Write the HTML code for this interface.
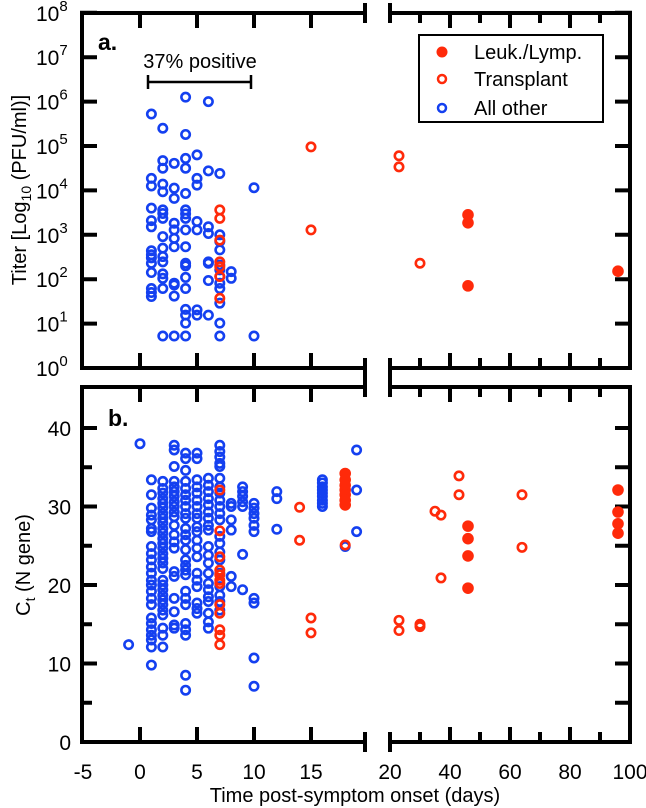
<!DOCTYPE html>
<html><head><meta charset="utf-8">
<style>
html,body{margin:0;padding:0;background:#fff;}
svg{display:block;font-family:"Liberation Sans",Arial,sans-serif;}
</style></head>
<body>
<svg id="chart" width="646" height="808" viewBox="0 0 646 808">
<g id="axes"></g>
<g id="marks"></g>
<text x="98" y="50" font-size="23" font-weight="bold">a.</text>
<text x="108" y="426" font-size="23" font-weight="bold">b.</text>
<text x="200" y="68" font-size="20" text-anchor="middle">37% positive</text>
<g stroke="#000" stroke-width="2.5">
<line x1="148" y1="82" x2="251" y2="82"/>
<line x1="148" y1="75" x2="148" y2="89"/><line x1="251" y1="75" x2="251" y2="89"/></g>
<g>
<rect x="419" y="35" width="184" height="87" fill="#fff" stroke="#000" stroke-width="2"/>
<circle cx="442" cy="52" r="5.5" fill="#ff2a0a"/>
<text x="474" y="59" font-size="20">Leuk./Lymp.</text>
<circle cx="442" cy="79" r="4" fill="none" stroke="#ff2a0a" stroke-width="2.5"/>
<text x="474" y="86" font-size="20">Transplant</text>
<circle cx="442" cy="108" r="4" fill="none" stroke="#1440f0" stroke-width="2.5"/>
<text x="474" y="115" font-size="20">All other</text>
</g>
<text x="355" y="802" font-size="20" text-anchor="middle">Time post-symptom onset (days)</text>
<text transform="translate(26,190) rotate(-90)" font-size="20" text-anchor="middle">Titer [Log<tspan font-size="14" dy="5">10</tspan><tspan dy="-5"> (PFU/ml)]</tspan></text>
<text transform="translate(30,565) rotate(-90)" font-size="20" text-anchor="middle">C<tspan font-size="14" dy="5">t</tspan><tspan dy="-5"> (N gene)</tspan></text>
</svg>
<script>
// Panel a: titer (log10 PFU/ml)
const otherTiterDays = [1,1,1,1,1,1,1,1,1,1,1,1,1,1, 2,2,2,2,2,2,2,2,2,2,2,2,2,2,2,2, 3,3,3,3,3,3,3,3,3,3,3, 4,4,4,4,4,4,4,4,4,4,4,4,4,4,4,4,4,4, 5,5,5,5,5,5,5, 6,6,6,6,6,6,6,6, 7,7,7,7,7,7,7,7,7,7,7,7, 8,8, 10,10];
const otherTiterLog = [5.72,4.27,4.10,3.60,3.32,3.18,2.64,2.55,2.48,2.36,2.15,1.79,1.70,1.61, 5.40,4.67,4.50,4.14,3.97,3.56,3.48,3.37,2.96,2.70,2.51,2.39,2.12,2.02,1.79,0.72, 4.61,4.05,3.82,3.26,3.11,2.92,2.73,1.91,1.87,1.62,0.72, 6.10,5.26,4.72,4.50,3.93,3.56,3.47,3.37,3.11,2.73,2.36,2.30,2.04,1.79,1.32,1.19,1.01,0.72, 4.80,4.27,4.12,3.30,3.11,1.31,1.19, 6.00,4.44,3.18,3.03,2.39,2.36,1.97,1.19, 4.38,3.00,2.85,2.66,2.32,2.21,2.06,1.91,1.79,1.46,1.01,0.72, 2.17,2.02, 4.06,0.72];
const transTiterDays = [7,7,7,7,7,7,7,15,15,23,23,30];
const transTiterLog = [3.56,3.37,2.88,2.39,2.28,2.06,1.57,4.98,3.11,4.78,4.53,2.36];
const leukTiterDays = [46,46,46,96];
const leukTiterLog = [3.45,3.27,1.85,2.18];
// Panel b: Ct values
const otherCtDays = [-1,0,
1,1,1,1,1,1,1,1,1,1,1,1,1,1,1,1,1,1,1,1,1,1,1,1,
2,2,2,2,2,2,2,2,2,2,2,2,2,2,2,2,2,2,2,2,2,2,2,2,2,2,2,2,2,
3,3,3,3,3,3,3,3,3,3,3,3,3,3,3,3,3,3,3,3,3,
4,4,4,4,4,4,4,4,4,4,4,4,4,4,4,4,4,4,4,4,4,4,4,4,4,4,
5,5,5,5,5,5,5,5,5,5,5,5,5,5,5,5,5,5,5,5,
6,6,6,6,6,6,6,6,6,6,6,6,6,6,6,6,6,6,6,6,
7,7,7,7,7,7,7,7,7,7,7,7,7,7,7,7,7,7,7,7,7,
8,8,8,8,8,8, 9,9,9,9,9,9,9, 10,10,10,10,10,10,10,10,10,10, 12,12,12,
16,16,16,16,16,16,16,16,16, 19,19,19,18];
const otherCt = [12.4,38.0,
33.4,31.5,29.8,28.9,28.3,27.2,26.8,24.9,24.0,23.2,22.3,21.5,20.6,20.0,19.2,18.3,17.5,15.8,15.1,14.3,13.6,13.0,12.1,9.8,
33.2,32.3,31.7,31.0,30.4,29.8,29.1,28.5,27.9,27.2,26.6,25.9,25.3,24.7,24.0,23.4,22.8,22.1,20.6,20.0,19.4,18.7,18.1,17.5,16.8,16.2,14.5,13.6,12.1,
37.8,37.2,35.1,33.2,32.5,31.9,31.3,30.6,30.0,29.3,28.7,27.6,26.4,25.5,24.7,21.7,21.1,18.3,16.6,14.9,14.5,
36.8,36.1,34.6,33.2,32.3,31.5,30.8,30.0,29.1,28.5,27.2,26.4,25.7,24.5,23.2,22.5,21.9,21.3,19.2,18.3,17.5,15.1,14.3,13.6,8.5,6.6,
36.8,36.1,33.4,32.5,31.7,30.8,30.0,29.1,28.5,27.4,26.8,25.7,24.7,23.6,21.5,20.6,19.8,17.7,17.0,16.4,
33.6,32.7,31.9,31.0,30.2,29.3,28.5,27.6,27.0,24.9,23.8,22.8,21.5,20.2,19.4,18.5,17.9,16.4,15.3,14.5,
37.8,37.0,36.3,35.5,35.1,33.6,32.5,31.7,30.8,30.0,29.1,28.3,26.2,25.3,24.2,23.2,21.5,19.8,18.7,17.9,16.8,
30.4,30.0,28.3,27.0,21.1,19.8, 32.5,31.9,31.3,30.6,30.0,23.9,19.4, 30.4,29.8,29.1,28.5,27.6,26.8,18.3,17.7,10.7,7.1, 31.9,31.0,27.1,
33.4,33.0,32.5,32.1,31.7,31.3,30.8,30.4,30.0, 37.2,32.1,26.8,24.9];
const transCtDays = [7,7,7,7,7,7,7,7,7,7,7,7,14,14,15,15,18,23,23,30,30,35,37,37,43,43,64,64];
const transCt = [32.1,26.9,23.6,21.9,21.3,20.6,20.2,17.5,16.4,14.3,13.6,12.4,29.9,25.7,15.8,13.9,25.1,15.5,14.2,15.0,14.7,29.4,28.9,20.9,33.9,31.5,31.5,24.8];
const leukCtDays = [18,18,18,18,18,18,18,46,46,46,46,96,96,96,96];
const leukCt = [34.2,33.4,32.7,32.1,31.5,30.8,30.2,27.5,25.9,23.7,19.6,32.1,29.3,27.8,26.6];
const xTickLeft = [-5,0,5,10,15];
const xTickRight = [20,40,60,80,100];
const yTickA = [0,1,2,3,4,5,6,7,8];
const yTickB = [0,10,20,30,40];

const NS="http://www.w3.org/2000/svg";
const BLUE="#1440f0", RED="#ff2a0a";
const L=82,R=630,B1=365,B2=390;
const A_TOP=13,A_BOT=368,B_TOP=387,B_BOT=742;
function xs(d){return d<19.8 ? 140+d*11.4 : 390+(d-20)*3;}
function ya(v){return A_BOT-v*44.4;}
function yb(v){return B_BOT-v*7.85;}
const axes=document.getElementById('axes'), marks=document.getElementById('marks');
function mk(tag,attrs,parent){const e=document.createElementNS(NS,tag);for(const k in attrs)e.setAttribute(k,attrs[k]);parent.appendChild(e);return e;}
function ln(x1,y1,x2,y2,w,name){const e=mk('line',{x1:x1,y1:y1,x2:x2,y2:y2,stroke:'#000','stroke-width':w,'stroke-linecap':'square'},axes);


return e;}
function txt(x,y,s,anchor,name){const e=mk('text',{x:x,y:y,'font-size':21,'text-anchor':anchor},axes);e.textContent=s;


return e;}
[[A_TOP,A_BOT],[B_TOP,B_BOT]].forEach(([t,b],pi)=>{
 const p=pi?'b':'a';
 ln(L,t,L,b,4,'left-axis-'+p); ln(R,t,R,b,4,'right-axis-'+p);
 [t,b].forEach(y=>{ln(L,y,B1,y,4,'horizontal-axis-'+p);ln(B2,y,R,y,4,'horizontal-axis-'+p);
  ln(B1,y-8,B1,y+8,4,'axis-break-'+p);ln(B2,y-8,B2,y+8,4,'axis-break-'+p);});
 xTickLeft.slice(1).forEach(d=>{const x=xs(d);ln(x,b,x,b-13,4,'x-tick');ln(x,t,x,t+13,4,'x-tick');});
 for(let d=30;d<100;d+=10){const x=xs(d);const len=(d%20===0)?13:8;ln(x,b,x,b-len,4,'x-tick');ln(x,t,x,t+len,4,'x-tick');}
});
yTickA.forEach(v=>{const y=ya(v);ln(L,y,L+13,y,4,'y-tick-a');ln(R,y,R-13,y,4,'y-tick-a');
 const e=txt(36,y+8,'10','start','y-tick-label-a');const s=mk('tspan',{'font-size':15,dy:-10},e);s.textContent=v;});
for(let v=5;v<45;v+=5){const y=yb(v);const len=(v%10===0)?13:8;ln(L,y,L+len,y,4,'y-tick-b');ln(R,y,R-13,y,4,'y-tick-b');}
yTickB.forEach(v=>{txt(71,yb(v)+8,String(v),'end','y-tick-label-b');});
xTickLeft.forEach(d=>{txt(xs(d),779,String(d),'middle','x-tick-label');});
xTickRight.forEach(d=>{txt(xs(d),779,String(d),'middle','x-tick-label');});
function open(xArr,yArr,fy,color,name){xArr.forEach((d,i)=>{const c=mk('circle',{cx:xs(d),cy:fy(yArr[i]),r:4.2,fill:'none',stroke:color,'stroke-width':2.6},marks);

});}
function filled(xArr,yArr,fy,color,name){xArr.forEach((d,i)=>{const c=mk('circle',{cx:xs(d),cy:fy(yArr[i]),r:5.8,fill:color},marks);

});}
open(otherTiterDays,otherTiterLog,ya,BLUE,'titer-point-other');
open(transTiterDays,transTiterLog,ya,RED,'titer-point-transplant');
filled(leukTiterDays,leukTiterLog,ya,RED,'titer-point-leuk');
open(otherCtDays,otherCt,yb,BLUE,'ct-point-other');
open(transCtDays,transCt,yb,RED,'ct-point-transplant');
filled(leukCtDays,leukCt,yb,RED,'ct-point-leuk');
</script>
</body></html>
